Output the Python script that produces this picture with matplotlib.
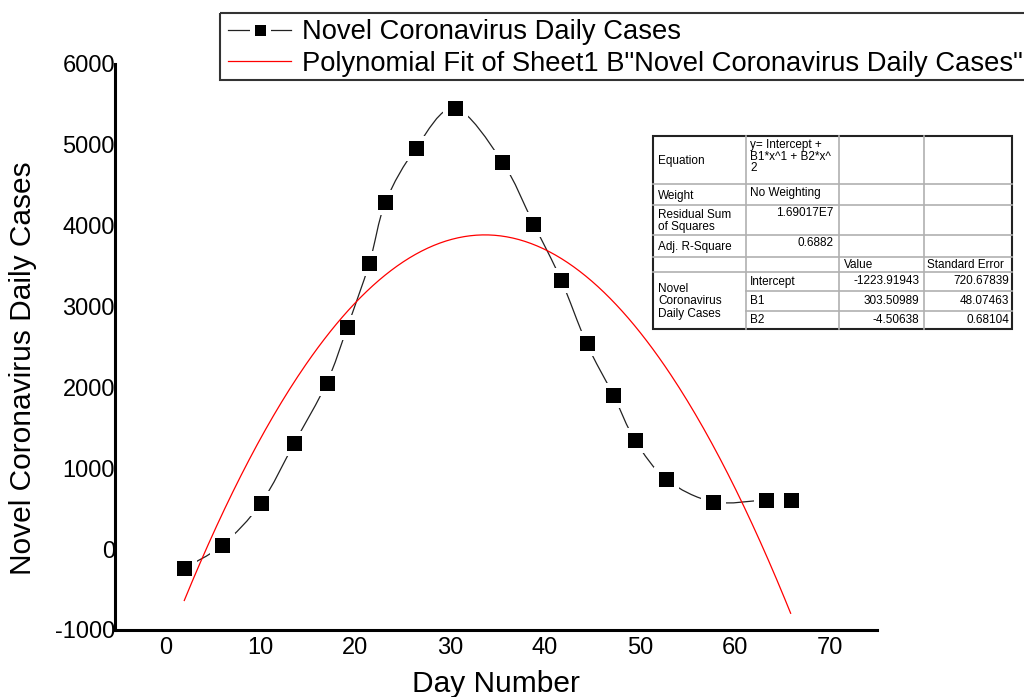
import numpy as np
import matplotlib
matplotlib.use('Agg')
from matplotlib import pyplot as plt
from matplotlib.path import Path
from matplotlib.patches import PathPatch
from matplotlib.lines import Line2D

plt.rcParams['font.family'] = ['Liberation Sans', 'DejaVu Sans']
plt.rcParams['axes.unicode_minus'] = False

# data
day = [2.0, 6.0, 10.1, 13.6, 17.0, 19.2, 21.5, 23.2, 26.4, 30.5,
       35.5, 38.8, 41.7, 44.4, 47.2, 49.5, 52.8, 57.7, 63.3, 65.9]
cases = [-235, 50, 570, 1313, 2053, 2751, 3535, 4291, 4957, 5452,
         4792, 4024, 3333, 2544, 1908, 1347, 864, 586, 607, 607]

# polynomial fit coefficients (from the fit table)
intercept, b1, b2 = -1223.91943, 303.50989, -4.50638

table_rows = [
    ('Equation', 'y= Intercept +\nB1*x^1 + B2*x^\n2'),
    ('Weight', 'No Weighting'),
    ('Residual Sum\nof Squares', '1.69017E7'),
    ('Adj. R-Square', '0.6882'),
]
param_names = ['Intercept', 'B1', 'B2']
param_values = ['-1223.91943', '303.50989', '-4.50638']
param_errors = ['720.67839', '48.07463', '0.68104']

W, H = 1024, 697
fig = plt.figure(figsize=(W / 100, H / 100), dpi=100)
ax = fig.add_axes([115 / W, (H - 630) / H, (877 - 115) / W, (630 - 64) / H])

# smooth connecting line (catmull-rom through the points)
pts = np.column_stack([day, cases]).astype(float)
verts = [pts[0]]
codes = [Path.MOVETO]
for i in range(len(pts) - 1):
    p0 = pts[i - 1] if i > 0 else pts[i]
    p1, p2 = pts[i], pts[i + 1]
    p3 = pts[i + 2] if i + 2 < len(pts) else pts[i + 1]
    verts += [p1 + (p2 - p0) / 6, p2 - (p3 - p1) / 6, p2]
    codes += [Path.CURVE4] * 3
ax.add_patch(PathPatch(Path(verts, codes), fc='none', ec='#222222', lw=0.9, zorder=2))

ax.plot(day, cases, ls='none', marker='s', ms=13.7, mfc='black', mec='white', mew=3.6, zorder=3)

xf = np.linspace(day[0], day[-1], 300)
ax.plot(xf, intercept + b1 * xf + b2 * xf ** 2, color='red', lw=0.9, zorder=4)

ax.set_xlim(-5.3, 75)
ax.set_ylim(-1000, 6000)
ax.set_xticks(range(0, 71, 10))
ax.set_yticks(range(-1000, 6001, 1000))
for s in ['top', 'right']:
    ax.spines[s].set_visible(False)
for s in ['left', 'bottom']:
    ax.spines[s].set_linewidth(2.2)
ax.tick_params(length=0, labelsize=17)
ax.tick_params(axis='x', pad=5)
ax.tick_params(axis='y', pad=0)
ax.set_xlabel('Day Number', fontsize=21.5, labelpad=8)
ax.set_ylabel('Novel Coronavirus Daily Cases', fontsize=21.5)
ax.yaxis.set_label_coords(-78 / 762, (697 - 368 - 67) / 566)

h1 = Line2D([], [], color='#222222', lw=0.9, marker='s', ms=13.7, mfc='black', mec='white', mew=3.6)
h2 = Line2D([], [], color='red', lw=0.9)
leg = fig.legend([h1, h2], ['Novel Coronavirus Daily Cases',
                            'Polynomial Fit of Sheet1 B"Novel Coronavirus Daily Cases"'],
                 loc='upper left', bbox_to_anchor=(220 / W, 1 - 11 / H), fontsize=19.7,
                 frameon=False, borderpad=0.3,
                 handlelength=2.3, handletextpad=0.4, labelspacing=0.2, markerscale=0.85,
                 borderaxespad=0)

# overlay in pixel coordinates for legend frame and fit table
ov = fig.add_axes([0, 0, 1, 1], zorder=10)
ov.set_xlim(0, W)
ov.set_ylim(H, 0)
ov.axis('off')
ov.add_patch(plt.Rectangle((220, 13), 830, 67, fc='none', ec='#333333', lw=1.5, clip_on=False))

cx = [653, 746, 839, 924, 1012]
ry = [136, 184, 205, 235, 257, 272, 291, 311, 329]
ov.add_patch(plt.Rectangle((cx[0], ry[0]), cx[-1] - cx[0], ry[-1] - ry[0], fc='white', ec='none'))
grey = '#b0b0b0'
for x in cx[1:-1]:
    ov.plot([x, x], [ry[0], ry[-1]], color=grey, lw=1.2)
for y in ry[1:6]:
    ov.plot([cx[0], cx[-1]], [y, y], color=grey, lw=1.2)
for y in ry[6:8]:
    ov.plot([cx[1], cx[-1]], [y, y], color=grey, lw=1.2)
ov.add_patch(plt.Rectangle((cx[0], ry[0]), cx[-1] - cx[0], ry[-1] - ry[0], fc='none', ec='#222222', lw=1.5))

fs = 8.5
for i, (name, val) in enumerate(table_rows):
    y0, y1 = ry[i], ry[i + 1]
    ov.text(cx[0] + 5, (y0 + y1) / 2 + 1, name, fontsize=fs, va='center', ha='left', linespacing=1.0)
    if i < 2:
        ov.text(cx[1] + 4, y0 + 3, val, fontsize=fs, va='top', ha='left', linespacing=0.95)
    else:
        ov.text(cx[2] - 6, y0 + 2, val, fontsize=fs, va='top', ha='right')
ov.text(cx[2] + 5, (ry[4] + ry[5]) / 2, 'Value', fontsize=fs, va='center', ha='left')
ov.text(cx[3] + 3, (ry[4] + ry[5]) / 2, 'Standard Error', fontsize=fs, va='center', ha='left')
ov.text(cx[0] + 5, (ry[5] + ry[8]) / 2 + 1, 'Novel\nCoronavirus\nDaily Cases', fontsize=fs,
        va='center', ha='left', linespacing=1.05)
for j in range(3):
    yc = (ry[5 + j] + ry[6 + j]) / 2
    ov.text(cx[1] + 4, yc, param_names[j], fontsize=fs, va='center', ha='left')
    ov.text(cx[3] - 5, yc, param_values[j], fontsize=fs, va='center', ha='right')
    ov.text(cx[4] - 3, yc, param_errors[j], fontsize=fs, va='center', ha='right')

fig.savefig('out.png', dpi=100)
